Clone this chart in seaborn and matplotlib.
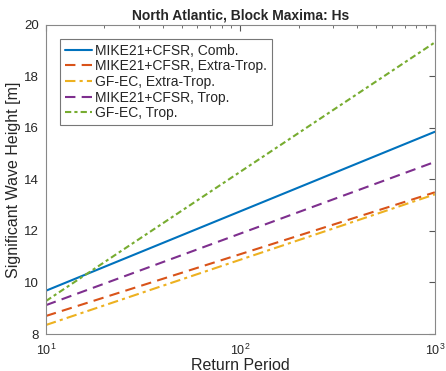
import numpy as np
import pandas as pd
import matplotlib
matplotlib.use("Agg")
import matplotlib.pyplot as plt
import seaborn as sns

return_period = [10, 1000]
comb_mike = [9.68, 15.85]
extra_mike = [8.70, 13.50]
extra_gfec = [8.35, 13.42]
trop_mike = [9.12, 14.68]
trop_gfec = [9.28, 19.32]
labels = ["MIKE21+CFSR, Comb.", "MIKE21+CFSR, Extra-Trop.", "GF-EC, Extra-Trop.",
          "MIKE21+CFSR, Trop.", "GF-EC, Trop."]
series = [comb_mike, extra_mike, extra_gfec, trop_mike, trop_gfec]
colors = ["#0072BD", "#D95319", "#EDB120", "#7E2F8E", "#77AC30"]
styles = ["-", (0, (5, 3)), (0, (5, 2, 1.5, 2)), (0, (5, 3)), (0, (3, 1.5, 1.5, 1.5))]

sns.set_style("white")
plt.rcParams['font.family'] = ['Liberation Sans', 'DejaVu Sans']

fig = plt.figure(figsize=(4.46, 3.71), dpi=100)
ax = fig.add_axes([0.103, 0.0997, 0.872, 0.8333])

for lab, vals, c, ls in zip(labels, series, colors, styles):
    df = pd.DataFrame({"rp": return_period, "hs": vals})
    sns.lineplot(data=df, x="rp", y="hs", ax=ax, color=c, linestyle=ls, linewidth=1.5, label=lab)

ax.set_xscale("log")
ax.set_xlim(10, 1000)
ax.set_ylim(8, 20)
ax.set_yticks([8, 10, 12, 14, 16, 18, 20])
ax.set_xlabel("Return Period", fontsize=11.5, labelpad=0)
ax.set_ylabel("Significant Wave Height [m]", fontsize=11.5, labelpad=2)
ax.set_title("North Atlantic, Block Maxima: Hs", fontsize=10, fontweight="bold", pad=4)
ax.tick_params(which="both", direction="in", top=True, right=True, labelsize=9.5, color="#555555")
ax.tick_params(axis="x", which="major", pad=6, labelsize=9)
ax.tick_params(axis="y", which="major", pad=5)
ax.tick_params(which="major", length=4)
ax.tick_params(which="minor", length=2.5)
for s in ax.spines.values():
    s.set_color("#888888")
    s.set_linewidth(0.8)
leg = ax.legend(loc="upper left", fontsize=10, frameon=True, fancybox=False,
                edgecolor="#555555", borderaxespad=1.0, handlelength=2.0,
                handletextpad=0.2, labelspacing=0.12, borderpad=0.35)
leg.get_frame().set_linewidth(0.8)

fig.savefig("out.png", dpi=100)
